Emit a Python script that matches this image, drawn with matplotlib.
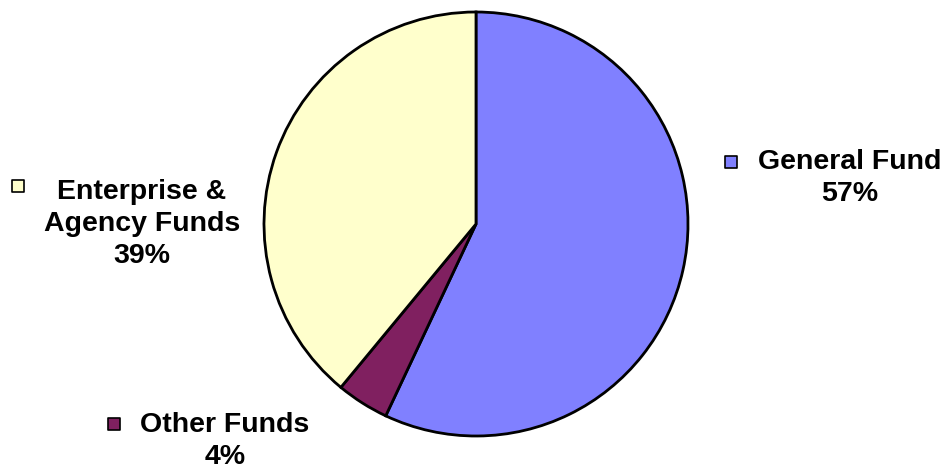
import matplotlib
matplotlib.use('Agg')
import matplotlib.pyplot as plt

# slice data, clockwise from 12 o'clock
funds = ['General Fund', 'Other Funds', 'Enterprise &\nAgency Funds']
shares = [57, 4, 39]
colours = ['#8080FF', '#802060', '#FFFFCC']

W, H = 948, 471
fig = plt.figure(figsize=[W / 100, H / 100], dpi=100)
ax = fig.add_axes([0, 0, 1, 1])

ax.pie(shares, colors=colours, startangle=90, counterclock=False,
       center=(476, H - 224), radius=212, frame=True,
       wedgeprops=dict(edgecolor='black', linewidth=2))
ax.set_xlim(0, W)
ax.set_ylim(0, H)
ax.set_aspect('equal')
ax.axis('off')

# label text centre, marker position (pixels from top-left)
label_pos = [(850, 178, 731, 162), (225, 441, 114, 424), (142, 224, 18, 186)]

font = dict(family=['Liberation Sans', 'DejaVu Sans'], fontsize=20.5, fontweight='bold')
for name, val, col, (tx, ty, mx, my) in zip(funds, shares, colours, label_pos):
    ax.text(tx, H - ty, '{0}\n{1}%'.format(name, val), ha='center', va='center',
            multialignment='center', linespacing=1.3, **font)
    ax.scatter([mx], [H - my], s=80, marker='s', color=col, edgecolor='black',
               linewidth=1.2, zorder=5)

fig.savefig('out.png', dpi=100)
